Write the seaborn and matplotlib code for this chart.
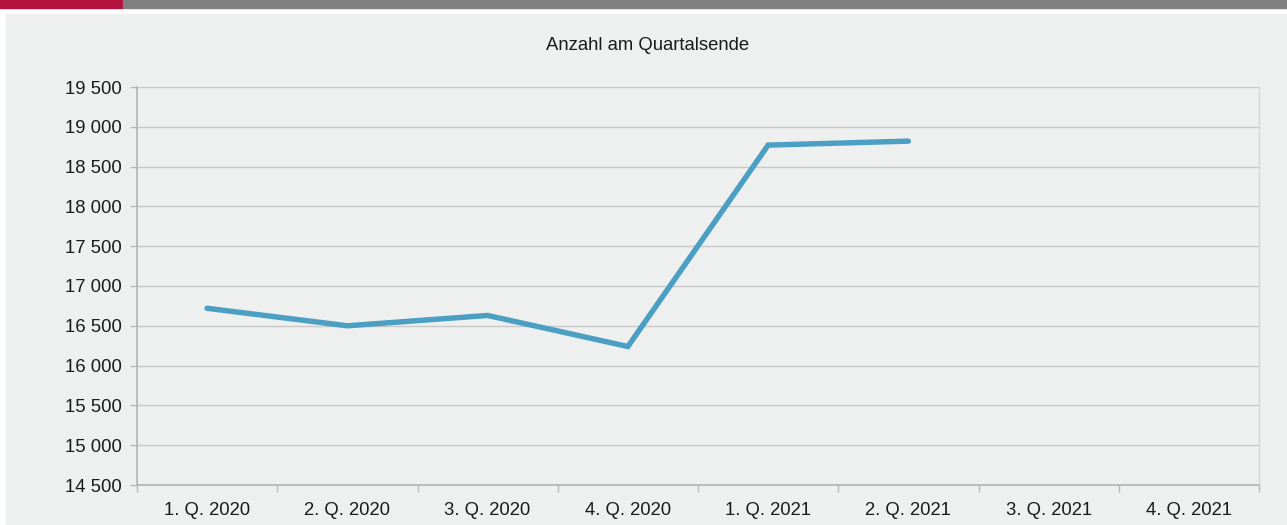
import seaborn as sns
import matplotlib.pyplot as plt
import matplotlib.patches as mpatches
import matplotlib.ticker as mticker
import numpy as np
import pandas as pd

quarters = ["1. Q. 2020", "2. Q. 2020", "3. Q. 2020", "4. Q. 2020",
            "1. Q. 2021", "2. Q. 2021", "3. Q. 2021", "4. Q. 2021"]
counts = [16720, 16500, 16630, 16240, 18770, 18820, np.nan, np.nan]
y_ticks = list(range(14500, 20000, 500))

df = pd.DataFrame({"pos": range(len(quarters)), "count": counts})

sns.set_theme(style="white")
plt.rcParams["font.family"] = ["Liberation Sans", "DejaVu Sans"]

bg = "#eeefef"
grid_c = "#c8c8c8"
fs = 13.3
fig = plt.figure(figsize=(12.87, 5.25), dpi=100, facecolor="white")

# header strip and panel behind the axes
for rect, col in [((0, 1 - 8 / 525, 123 / 1287, 8 / 525), "#b5133f"),
                  ((123 / 1287, 1 - 8 / 525, 1, 8 / 525), "#808080"),
                  ((6 / 1287, 0, 1, 1 - 14 / 525), bg)]:
    fig.patches.append(mpatches.Rectangle(rect[:2], rect[2], rect[3],
                                          transform=fig.transFigure, color=col, zorder=-10))

ax = fig.add_axes([137 / 1287, 1 - 485 / 525, (1259 - 137) / 1287, (485 - 87) / 525])
ax.set_facecolor(bg)
ax.set_zorder(5)

sns.lineplot(data=df, x="pos", y="count", ax=ax, color="#4a9fc2", linewidth=3.9,
             solid_capstyle="round", solid_joinstyle="miter")

ax.set_xlim(-0.5, len(quarters) - 0.5)
ax.set_ylim(y_ticks[0], y_ticks[-1])
ax.set_yticks(y_ticks)
ax.yaxis.set_major_formatter(mticker.FuncFormatter(lambda v, p: f"{int(v):,}".replace(",", " ")))
ax.set_xticks(range(len(quarters)))
ax.set_xticklabels(quarters)
ax.set_xticks(np.arange(-0.5, len(quarters), 1), minor=True)
ax.tick_params(axis="x", which="major", length=0, pad=12, labelsize=fs, colors="#1a1a1a")
ax.tick_params(axis="x", which="minor", length=5, width=1, color="#b8b8b8", bottom=True)
ax.tick_params(axis="y", which="major", length=5, width=1, color="#b8b8b8", left=True,
               pad=6, labelsize=fs, labelcolor="#1a1a1a")
ax.set_xlabel("")
ax.set_ylabel("")

ax.grid(axis="y", color=grid_c, linewidth=1)
ax.set_axisbelow(True)
for side in ["left", "bottom"]:
    ax.spines[side].set_color("#b8b8b8")
    ax.spines[side].set_linewidth(1.3)
ax.spines["top"].set_visible(False)
ax.spines["right"].set_color("#d6d6d6")
ax.spines["right"].set_linewidth(1)

fig.text(0.503, 1 - 45 / 525, "Anzahl am Quartalsende", ha="center", va="center",
         fontsize=fs, color="#1a1a1a")

fig.savefig("out.png", dpi=100, facecolor="white")
